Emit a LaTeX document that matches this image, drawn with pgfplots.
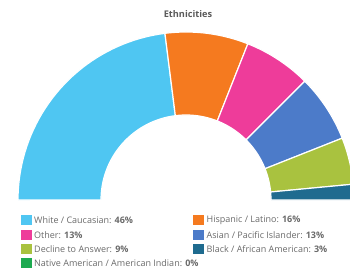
\documentclass[border=0pt]{standalone}
\usepackage{pgfplots}
\pgfplotsset{compat=1.18}
\usepackage{fontspec}
\setmainfont{Open Sans}
\definecolor{cWhite}{HTML}{4FC6F2}
\definecolor{cHisp}{HTML}{F57A1F}
\definecolor{cOther}{HTML}{EE3C9A}
\definecolor{cAsian}{HTML}{4C7BC9}
\definecolor{cDecl}{HTML}{A9C23F}
\definecolor{cBlack}{HTML}{1F6B8F}
\definecolor{cNative}{HTML}{1DAA50}
\definecolor{txt}{HTML}{6A6A6A}
% segment: colour, start %, end %
\newcommand{\seg}[3]{%
  \addplot[fill=#1, draw=white, line width=1.2pt, samples at={0,...,81}, variable=\t]
  ({((\t<40.5) ? 168 : 85)*cos(180-1.8*((\t<40.5) ? (#2+(#3-#2)*\t/40) : (#3-(#3-#2)*(\t-41)/40)))+186},
   {((\t<40.5) ? 168 : 85)*sin(180-1.8*((\t<40.5) ? (#2+(#3-#2)*\t/40) : (#3-(#3-#2)*(\t-41)/40)))+73}) -- cycle;
}
\newcommand{\legitem}[4]{% x, ypx, colour, text
  \node[fill=#3, minimum width=11pt, minimum height=10pt, inner sep=0pt, anchor=west] at (axis cs:#1,273-#2) {};
  \node[anchor=west, inner sep=0pt, font=\fontsize{9}{10}\selectfont, text=txt] at (axis cs:#1+13.5,273-#2) {#4};
}
\begin{document}
\begin{tikzpicture}
\begin{axis}[scale only axis, width=350pt, height=273pt,
  xmin=0, xmax=350, ymin=0, ymax=273, hide axis]
\path (rel axis cs:0,0) rectangle (rel axis cs:1,1);
% values (percent): White 46, Hispanic 16, Other 13, Asian 13, Decline 9, Black 3, Native 0
\seg{cWhite}{0}{46}
\seg{cHisp}{46}{62}
\seg{cOther}{62}{75}
\seg{cAsian}{75}{88}
\seg{cDecl}{88}{97}
\seg{cBlack}{97}{100}
\node[font=\bfseries\fontsize{9.2}{10}\selectfont, text=txt!85!black] at (axis cs:188,273-14) {Ethnicities};
\legitem{20.5}{220}{cWhite}{White / Caucasian: \textbf{46\%}}
\legitem{20.5}{235}{cOther}{Other: \textbf{13\%}}
\legitem{20.5}{249}{cDecl}{Decline to Answer: \textbf{9\%}}
\legitem{20.5}{263}{cNative}{Native American / American Indian: \textbf{0\%}}
\legitem{193}{220}{cHisp}{Hispanic / Latino: \textbf{16\%}}
\legitem{193}{235}{cAsian}{Asian / Pacific Islander: \textbf{13\%}}
\legitem{193}{249}{cBlack}{Black / African American: \textbf{3\%}}
\end{axis}
\end{tikzpicture}
\end{document}
